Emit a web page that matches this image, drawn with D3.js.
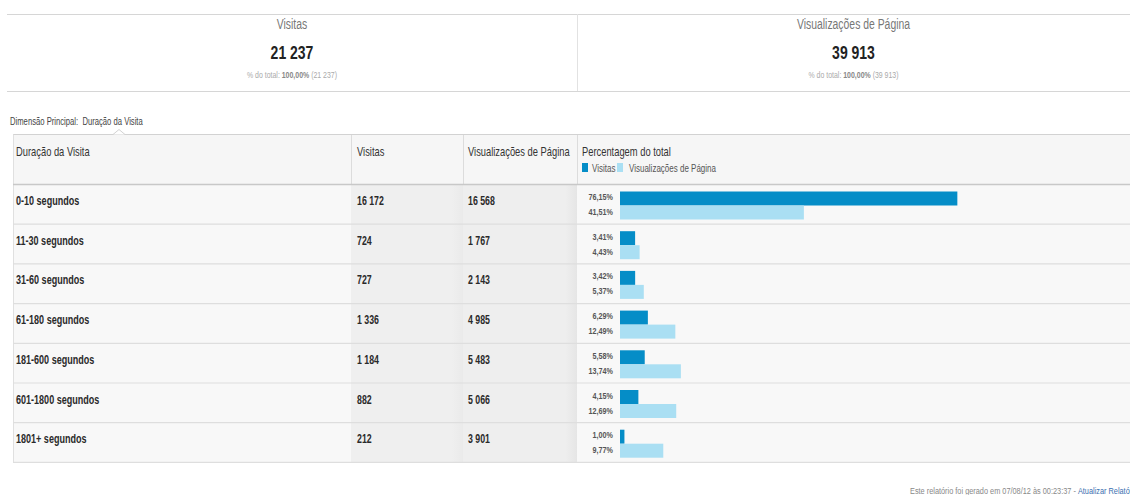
<!DOCTYPE html>
<html>
<head>
<meta charset="utf-8">
<script src="https://cdn.jsdelivr.net/npm/d3@7"></script>
<style>
  html, body { margin: 0; padding: 0; background: #fff; }
  svg { display: block; font-family: "Liberation Sans", Arial, sans-serif; }
</style>
</head>
<body>
<svg id="chart" width="1130" height="495"></svg>
<script>
// ---- data ----
const categories = ["0-10 segundos", "11-30 segundos", "31-60 segundos", "61-180 segundos", "181-600 segundos", "601-1800 segundos", "1801+ segundos"];
const visits = [16172, 724, 727, 1336, 1184, 882, 212];
const pageviews = [16568, 1767, 2143, 4985, 5483, 5066, 3901];
const visitsPct = [76.15, 3.41, 3.42, 6.29, 5.58, 4.15, 1.00];
const pageviewsPct = [41.51, 4.43, 5.37, 12.49, 13.74, 12.69, 9.77];
const totals = [21237, 39913];
const metricNames = ["Visitas", "Visualizações de Página"];
const columnHeaders = ["Duração da Visita", "Visitas", "Visualizações de Página", "Percentagem do total"];
const dimensionLabel = "Dimensão Principal:";
const dimensionValue = "Duração da Visita";
const footerText = "Este relatório foi gerado em 07/08/12 às 00:23:37 - ";
const footerLink = "Atualizar Relatório";

// ---- formatting ----
const loc = d3.formatLocale({decimal: ",", thousands: " ", grouping: [3], currency: ["", ""]});
const fmtInt = loc.format(",d");
const fmtPct = v => loc.format(".2f")(v) + "%";

const colDark = "#058dc7", colLight = "#aadff3";
const SX = 0.74; // narrow font emulation
const K = 0.8 / SX;
const svg = d3.select("#chart");
const W = 1130;

// narrow text helper
function ntext(parent, x, y, opts) {
  const t = parent.append("text")
    .attr("transform", `translate(${x},${y}) scale(${SX},1)`)
    .attr("font-size", (opts.size || 11) * K)
    .attr("fill", opts.fill || "#333")
    .attr("text-anchor", opts.anchor || "start");
  if (opts.bold) t.attr("font-weight", "bold");
  if (opts.text !== undefined) t.text(opts.text);
  return t;
}

// ---- defs: gradients for the metric columns ----
const defs = svg.append("defs");
function grad(id, c1, c2) {
  const g = defs.append("linearGradient").attr("id", id).attr("x1", "0").attr("x2", "1").attr("y1", "0").attr("y2", "0");
  g.append("stop").attr("offset", "0%").attr("stop-color", c1);
  g.append("stop").attr("offset", "90%").attr("stop-color", c1);
  g.append("stop").attr("offset", "100%").attr("stop-color", c2);
}
grad("gVis", "#efefef", "#eaeaea");
grad("gPv", "#eeeeee", "#e5e5e5");

// ---- summary scorecards ----
const sumTop = 14, sumBottom = 91, sumLeft = 7, sumMid = 577;
const sumCenters = [(sumLeft + sumMid) / 2, (sumMid + W) / 2];
svg.append("line").attr("x1", sumLeft).attr("x2", W).attr("y1", sumTop + 0.5).attr("y2", sumTop + 0.5).attr("stroke", "#d6d6d6");
svg.append("line").attr("x1", sumLeft).attr("x2", W).attr("y1", sumBottom + 0.5).attr("y2", sumBottom + 0.5).attr("stroke", "#d6d6d6");
svg.append("line").attr("x1", sumMid + 0.5).attr("x2", sumMid + 0.5).attr("y1", sumTop).attr("y2", sumBottom).attr("stroke", "#e2e2e2");
metricNames.forEach((m, i) => {
  const cx = sumCenters[i];
  ntext(svg, cx, 28.5, {size: 13, fill: "#777", anchor: "middle", text: m});
  ntext(svg, cx, 59, {size: 17.5, fill: "#222", anchor: "middle", bold: true, text: fmtInt(totals[i])});
  const t = ntext(svg, cx, 78, {size: 8.7, fill: "#aaa", anchor: "middle"});
  t.append("tspan").text("% do total: ");
  t.append("tspan").attr("font-weight", "bold").attr("fill", "#888").text("100,00%");
  t.append("tspan").text(" (" + fmtInt(totals[i]) + ")");
});

// ---- dimension label ----
const dl = ntext(svg, 10, 124.5, {size: 9.6, fill: "#444"});
dl.append("tspan").text(dimensionLabel + "\u00a0\u00a0");
dl.append("tspan").text(dimensionValue);

// ---- table geometry ----
const tLeft = 13, tRight = W;
const colEdges = [tLeft, 351, 463, 577, tRight];
const headTop = 134.5, headBottom = 185;
const rowH = 39.7;
const y = d3.scaleBand().domain(categories).range([headBottom, headBottom + rowH * categories.length]).padding(0);
const tBottom = headBottom + rowH * categories.length;

// header background
svg.append("rect").attr("x", tLeft).attr("y", headTop).attr("width", tRight - tLeft).attr("height", headBottom - headTop).attr("fill", "#f6f6f6");
// column backgrounds for body
const colFills = ["#f8f8f8", "url(#gVis)", "url(#gPv)", "#f8f8f8"];
colFills.forEach((f, i) => {
  svg.append("rect").attr("x", colEdges[i]).attr("y", headBottom).attr("width", colEdges[i + 1] - colEdges[i]).attr("height", tBottom - headBottom).attr("fill", f);
});
// header vertical separators
for (let i = 1; i < 4; i++) {
  svg.append("line").attr("x1", colEdges[i] + 0.5).attr("x2", colEdges[i] + 0.5).attr("y1", headTop).attr("y2", headBottom).attr("stroke", "#dcdcdc");
}
// table outer lines
svg.append("line").attr("x1", tLeft).attr("x2", tRight).attr("y1", headTop).attr("y2", headTop).attr("stroke", "#d2d2d2");
svg.append("line").attr("x1", tLeft + 0.5).attr("x2", tLeft + 0.5).attr("y1", headTop).attr("y2", tBottom).attr("stroke", "#e0e0e0");
svg.append("line").attr("x1", tLeft).attr("x2", tRight).attr("y1", headBottom - 0.5).attr("y2", headBottom - 0.5).attr("stroke", "#c8c8c8").attr("stroke-width", 1.5);

// notch (small triangle pointing up at the dimension label)
svg.append("path").attr("d", `M${113},${headTop} L${119},${headTop - 5} L${125},${headTop}`).attr("fill", "#fff").attr("stroke", "#d2d2d2");

// header texts
const hY = 156;
ntext(svg, colEdges[0] + 3, hY, {size: 11.7, text: columnHeaders[0]});
ntext(svg, colEdges[1] + 6, hY, {size: 11.7, text: columnHeaders[1]});
ntext(svg, colEdges[2] + 5, hY, {size: 11.7, text: columnHeaders[2]});
ntext(svg, colEdges[3] + 5, hY, {size: 11.7, text: columnHeaders[3]});
// legend
const lg = svg.append("g").attr("transform", `translate(${colEdges[3] + 5},${163})`);
lg.append("rect").attr("x", 0).attr("y", 0).attr("width", 6).attr("height", 9).attr("fill", colDark);
ntext(lg, 10, 8.5, {size: 10, fill: "#555", text: metricNames[0]});
lg.append("rect").attr("x", 35).attr("y", 0).attr("width", 6).attr("height", 9).attr("fill", colLight);
ntext(lg, 47, 8.5, {size: 10, fill: "#555", text: metricNames[1]});

// ---- rows ----
const x = d3.scaleLinear().domain([0, 100]).range([620, 620 + 443]);
const rows = svg.append("g").selectAll("g").data(categories).join("g")
  .attr("transform", d => `translate(0,${y(d)})`);

rows.append("line").attr("x1", tLeft).attr("x2", tRight).attr("y1", y.bandwidth() - 0.5).attr("y2", y.bandwidth() - 0.5).attr("stroke", "#dedede").attr("stroke-width", 1.2);

rows.each(function(d, i) {
  const g = d3.select(this);
  ntext(g, colEdges[0] + 3, 20, {size: 11.3, bold: true, fill: "#2a2a2a", text: d});
  ntext(g, colEdges[1] + 6, 20, {size: 11, bold: true, fill: "#2a2a2a", text: fmtInt(visits[i])});
  ntext(g, colEdges[2] + 5, 20, {size: 11, bold: true, fill: "#2a2a2a", text: fmtInt(pageviews[i])});
  ntext(g, 613, 15, {size: 9, bold: true, fill: "#555", anchor: "end", text: fmtPct(visitsPct[i])});
  ntext(g, 613, 30, {size: 9, bold: true, fill: "#555", anchor: "end", text: fmtPct(pageviewsPct[i])});
});

rows.append("rect").attr("x", x(0)).attr("y", 6.5).attr("height", 14).attr("width", (d, i) => x(visitsPct[i]) - x(0)).attr("fill", colDark);
rows.append("rect").attr("x", x(0)).attr("y", 20.5).attr("height", 14).attr("width", (d, i) => x(pageviewsPct[i]) - x(0)).attr("fill", colLight);

// ---- footer ----
const ft = ntext(svg, 910, 494, {size: 9.2, fill: "#888"});
ft.append("tspan").text(footerText);
ft.append("tspan").attr("fill", "#3a6fb0").text(footerLink);
</script>
</body>
</html>
